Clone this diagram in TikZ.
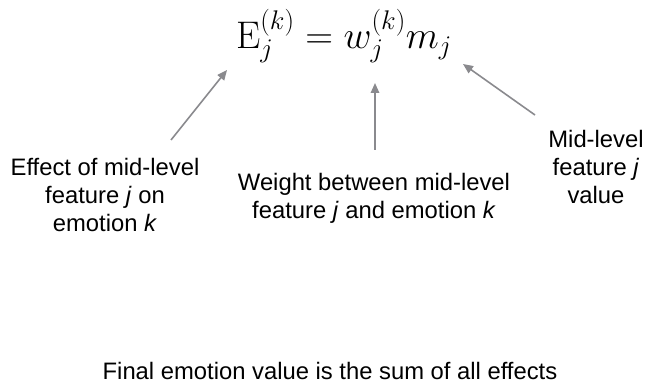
\RequirePackage{fix-cm}
\documentclass[tikz,border=0pt]{standalone}
\usepackage{amsmath}
\usepackage[no-math]{fontspec}
\setmainfont{Liberation Sans}
\usetikzlibrary{arrows.meta}
\definecolor{arrowgray}{HTML}{8A8A8E}

\begin{document}
\begin{tikzpicture}[x=1pt, y=-1pt,
  lbl/.style={align=center, anchor=north, inner sep=0pt,
    font=\fontsize{23.8}{28}\selectfont},
  pointer/.style={-{Triangle[length=10pt,width=8.5pt]}, draw=arrowgray,
    fill=arrowgray, line width=1.6pt}]
  \useasboundingbox (0,0) rectangle (646,390);
  % the formula
  \node[anchor=base, inner sep=0pt, font=\fontsize{38.5}{44}\selectfont]
    (eq) at (344,49) {$\mathrm{E}_j^{(k)} = w_j^{(k)} m_j$};
  % labels
  \node[lbl] (effect) at (105,158)
    {Effect of mid-level\\feature \textit{j} on\\emotion \textit{k}};
  \node[lbl] (weight) at (374,173)
    {Weight between mid-level\\feature \textit{j} and emotion \textit{k}};
  \node[lbl] (value) at (596,130)
    {Mid-level\\feature \textit{j}\\value};
  \node[lbl, anchor=base] (final) at (330,380)
    {Final emotion value is the sum of all effects};
  % arrow ends
  \coordinate (effect-tail) at (171,140);
  \coordinate (effect-tip) at (227,70);
  \coordinate (weight-tail) at (375,150);
  \coordinate (weight-tip) at (375,83);
  \coordinate (value-tail) at (535,115);
  \coordinate (value-tip) at (463,64);
  \draw[pointer] (effect-tail) -- (effect-tip);
  \draw[pointer] (weight-tail) -- (weight-tip);
  \draw[pointer] (value-tail) -- (value-tip);
\end{tikzpicture}
\end{document}
